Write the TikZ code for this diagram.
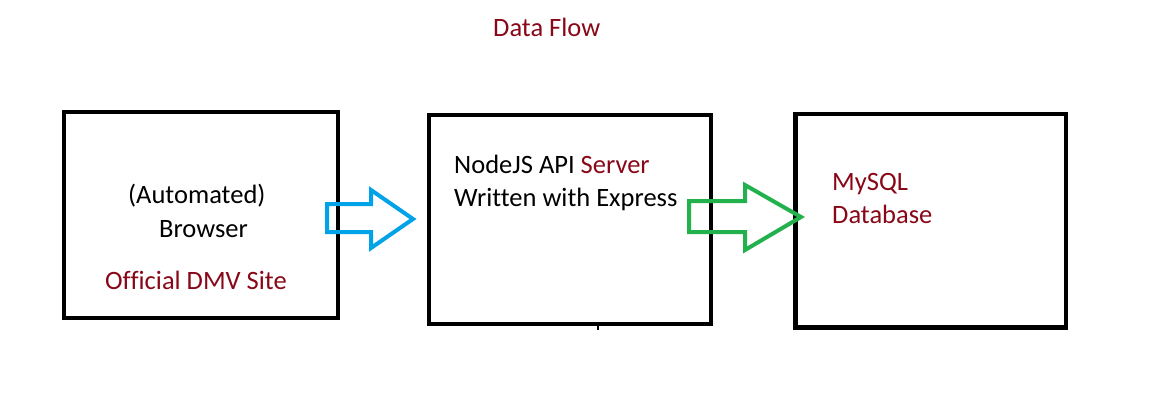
\documentclass[tikz,border=0pt]{standalone}
\usepackage{fontspec}
\setmainfont[Ligatures=NoCommon]{Carlito}
\definecolor{dred}{RGB}{136,8,24}
\definecolor{ablue}{RGB}{0,162,232}
\definecolor{agreen}{RGB}{34,177,76}
\begin{document}
\begin{tikzpicture}[x=1pt,y=-1pt,
  box/.style={draw=black,line width=4.5pt,minimum width=#1,inner sep=0pt,outer sep=0pt},
  txt/.style={anchor=base west,inner sep=0pt,font=\fontsize{26.5}{31}\selectfont},
  blockarrow/.style={line width=4pt,line join=miter}]
\useasboundingbox (0,0) rectangle (1149,417);
\fill[white] (0,0) rectangle (1149,417);
% boxes
\node[box=274pt,minimum height=206pt] (b1) at (201,215) {};
\node[box=282pt,minimum height=209pt] (b2) at (570,219.5) {};
\node[box=270.5pt,minimum height=213.5pt] (b3) at (930.75,220.75) {};
\coordinate (tick1) at (598,324);
\coordinate (tick2) at (598,330);
\draw[line width=2pt] (tick1) -- (tick2);
% title
\node[txt,text=dred] (title) at (493,37) {Data Flow};
% box 1 text
\node[txt] (t1a) at (128,204) {(Automated)};
\node[txt] (t1b) at (159,237) {Browser};
\node[txt,text=dred] (t1c) at (105,289) {Official DMV Site};
% box 2 text
\node[txt] (t2a) at (454,174) {NodeJS API \textcolor{dred}{Server}};
\node[txt] (t2b) at (454,207) {Written with Express};
% box 3 text
\node[txt,text=dred] (t3a) at (832,190) {MySQL};
\node[txt,text=dred] (t3b) at (832,223) {Database};
% arrows
\draw[blockarrow,draw=ablue] (327,204) -- (371,204) -- (371,190) -- (413,219) -- (371,248) -- (371,232) -- (327,232) -- cycle;
\draw[blockarrow,draw=agreen] (689,201) -- (745,201) -- (745,185) -- (801,217) -- (745,250) -- (745,232) -- (689,232) -- cycle;
\end{tikzpicture}
\end{document}
